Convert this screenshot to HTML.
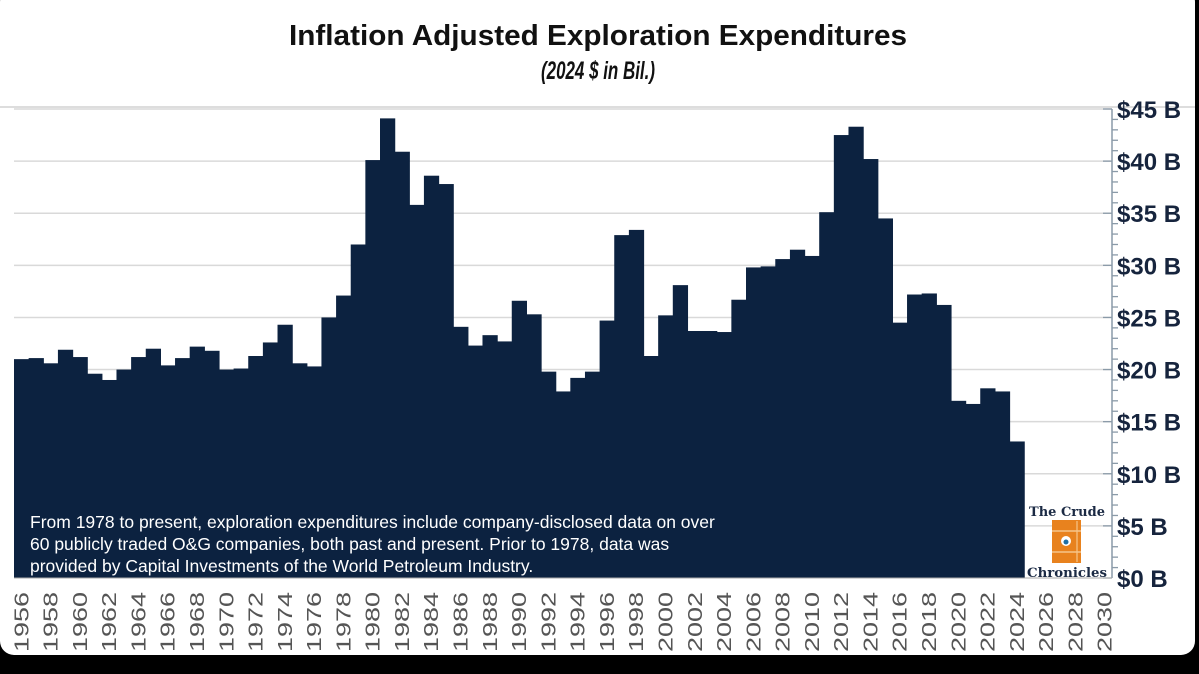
<!DOCTYPE html>
<html><head><meta charset="utf-8"><style>
html,body{margin:0;padding:0;background:#000;width:1199px;height:674px;overflow:hidden}
#card{position:absolute;left:0;top:-12px;width:1195px;height:667px;background:#fff;border-radius:14px}
svg{position:absolute;left:0;top:0}
</style></head><body>
<div id="card"></div>
<svg id="chart" width="1199" height="674" font-family="Liberation Sans, Arial, sans-serif"></svg>
<script>
const years = [1956,1957,1958,1959,1960,1961,1962,1963,1964,1965,1966,1967,1968,1969,1970,1971,1972,1973,1974,1975,1976,1977,1978,1979,1980,1981,1982,1983,1984,1985,1986,1987,1988,1989,1990,1991,1992,1993,1994,1995,1996,1997,1998,1999,2000,2001,2002,2003,2004,2005,2006,2007,2008,2009,2010,2011,2012,2013,2014,2015,2016,2017,2018,2019,2020,2021,2022,2023,2024];
const values = [21.0,21.1,20.6,21.9,21.2,19.6,19.0,20.0,21.2,22.0,20.4,21.1,22.2,21.8,20.0,20.1,21.3,22.6,24.3,20.6,20.3,25.0,27.1,32.0,40.1,44.1,40.9,35.8,38.6,37.8,24.1,22.3,23.3,22.7,26.6,25.3,19.8,17.9,19.2,19.8,24.7,32.9,33.4,21.3,25.2,28.1,23.7,23.7,23.6,26.7,29.8,29.9,30.6,31.5,30.9,35.1,42.5,43.3,40.2,34.5,24.5,27.2,27.3,26.2,17.0,16.7,18.2,17.9,13.1];
const yTicks = [0,5,10,15,20,25,30,35,40,45];
const yTickLabels = ["$0 B","$5 B","$10 B","$15 B","$20 B","$25 B","$30 B","$35 B","$40 B","$45 B"];
const xLabels = [1956,1958,1960,1962,1964,1966,1968,1970,1972,1974,1976,1978,1980,1982,1984,1986,1988,1990,1992,1994,1996,1998,2000,2002,2004,2006,2008,2010,2012,2014,2016,2018,2020,2022,2024,2026,2028,2030];

const NS="http://www.w3.org/2000/svg";
const svg=document.getElementById('chart');
const X0=14, X1=1112, Y0=578, Y45=109, firstYear=1956, nYears=75;
const bw=(X1-X0)/nYears;
const xs=yr=>X0+(yr-firstYear)*bw;
const ys=v=>Y0-(Y0-Y45)*v/45;
function mk(tag,attrs,parent){const e=document.createElementNS(NS,tag);for(const k in attrs)e.setAttribute(k,attrs[k]);(parent||svg).appendChild(e);return e;}

let t=mk('text',{x:598,y:45,'text-anchor':'middle','font-size':29,'font-weight':'bold',fill:'#111',textLength:618,lengthAdjust:'spacingAndGlyphs'});


t.textContent='Inflation Adjusted Exploration Expenditures';
t=mk('text',{x:598,y:79,'text-anchor':'middle','font-size':25,'font-weight':'bold','font-style':'italic',fill:'#111',textLength:114,lengthAdjust:'spacingAndGlyphs'});


t.textContent='(2024 $ in Bil.)';
let sep=mk('line',{x1:0,x2:1195,y1:107,y2:107,stroke:'#ddd','stroke-width':2});



yTicks.forEach(v=>{if(v===0)return;const g=mk('line',{x1:X0,x2:X1,y1:ys(v),y2:ys(v),stroke:'#d9d9d9','stroke-width':1.5});

});

years.forEach((yr,i)=>{const r=mk('rect',{x:xs(yr),y:ys(values[i]),width:bw+0.6,height:Y0-ys(values[i]),fill:'#0c2240'});

});

let ax=mk('line',{x1:X1,x2:X1,y1:ys(45),y2:Y0,stroke:'#8a9aa8','stroke-width':1.5});


for(let v=0;v<=45;v++){const major=v%5===0;const tk=mk('line',{x1:X1-(major?9:0),x2:X1+(major?0:6),y1:ys(v),y2:ys(v),stroke:'#8a9aa8','stroke-width':1.3});

}
yTicks.forEach((v,i)=>{const l=mk('text',{x:1117,y:ys(v)+9,'font-size':24,'font-weight':'bold',fill:'#16243d'});


l.textContent=yTickLabels[i];});
let xb=mk('line',{x1:X0,x2:X1,y1:Y0,y2:Y0,stroke:'#aaa','stroke-width':1});



xLabels.forEach(yr=>{const cx=xs(yr)+bw/2+7;const l=mk('text',{x:0,y:0,'font-size':20,fill:'#555',textLength:60,lengthAdjust:'spacingAndGlyphs',transform:`translate(${cx},652) rotate(-90)`});


l.textContent=yr;});

const notes=['From 1978 to present, exploration expenditures include company-disclosed data on over','60 publicly traded O&G companies, both past and present. Prior to 1978, data was','provided by Capital Investments of the World Petroleum Industry.'];
notes.forEach((s,i)=>{const l=mk('text',{x:30,y:528+i*22,'font-size':17.5,fill:'#fff'});


l.textContent=s;});

const lg=mk('g',{});


let lt=mk('text',{x:1067,y:516,'text-anchor':'middle','font-size':13,'font-weight':'bold','font-family':'DejaVu Serif, serif',fill:'#1b2a44'},lg);lt.textContent='The Crude';
mk('rect',{x:1052,y:520,width:29,height:43,fill:'#e8821e'},lg);
mk('line',{x1:1052,x2:1081,y1:531,y2:531,stroke:'#f6c48a','stroke-width':1.5},lg);
mk('line',{x1:1052,x2:1081,y1:552,y2:552,stroke:'#f6c48a','stroke-width':1.5},lg);
mk('line',{x1:1077,x2:1077,y1:521,y2:562,stroke:'#f6c48a','stroke-width':1.2},lg);
mk('circle',{cx:1066,cy:541,r:5,fill:'#fff'},lg);
mk('circle',{cx:1066,cy:542,r:2.5,fill:'#1d6fa5'},lg);
lt=mk('text',{x:1067,y:577,'text-anchor':'middle','font-size':13,'font-weight':'bold','font-family':'DejaVu Serif, serif',fill:'#1b2a44',textLength:80,lengthAdjust:'spacingAndGlyphs'},lg);lt.textContent='Chronicles';
</script>
</body></html>
